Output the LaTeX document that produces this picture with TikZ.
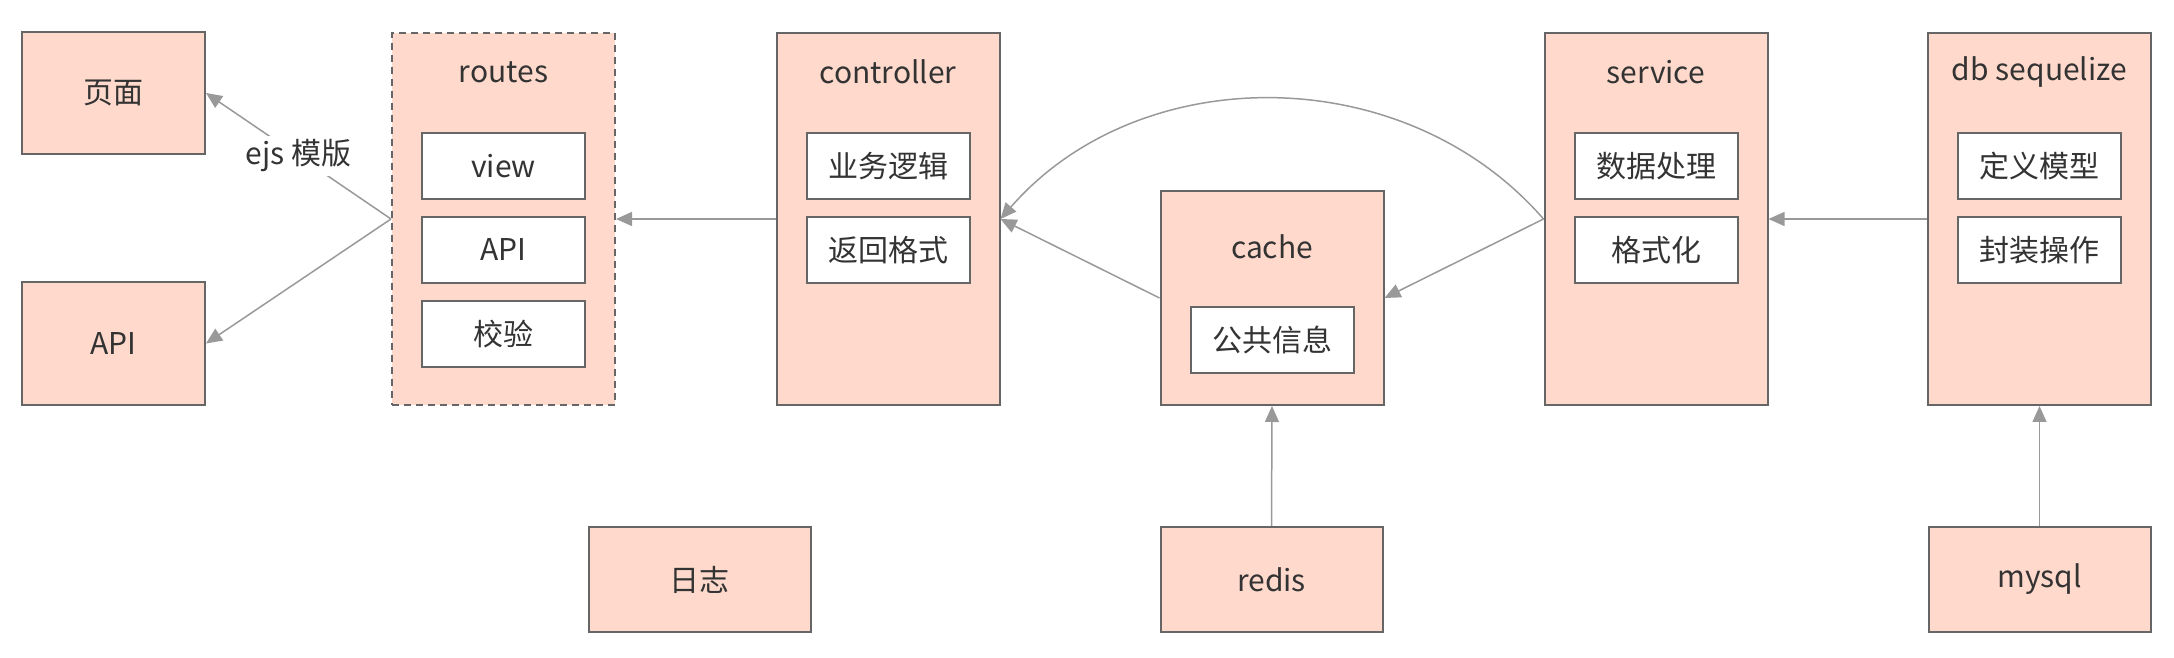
\documentclass[tikz,border=0pt]{standalone}
\usepackage{fontspec}
\setmainfont{Noto Sans CJK SC}
\usetikzlibrary{arrows.meta}
\definecolor{boxfill}{HTML}{FFDACC}
\definecolor{boxline}{HTML}{666666}
\definecolor{arrowgray}{HTML}{999999}
\definecolor{textgray}{HTML}{333333}
\begin{document}
\begin{tikzpicture}[x=0.5pt, y=0.5pt,
        every node/.style={text=textgray, font=\fontsize{15}{18}\selectfont},
        tier/.style={draw=boxline, fill=boxfill, line width=1pt, inner sep=0pt,
            minimum width=111.5pt, minimum height=186pt},
        item/.style={draw=boxline, fill=white, line width=1pt, inner sep=0pt,
            minimum width=81.5pt, minimum height=33pt},
        leaf/.style={draw=boxline, fill=boxfill, line width=1pt, inner sep=0pt,
            minimum width=111pt, minimum height=52.5pt},
        flow/.style={draw=arrowgray, line width=0.75pt, -{Triangle[length=8pt, width=7pt]}}]
        \useasboundingbox (0, 0) rectangle (2174, 658);

        % outputs
        \node[leaf, minimum width=91.5pt, minimum height=61pt] (page) at (113.5, 565) {页面};
        \node[leaf, minimum width=91.5pt, minimum height=61.5pt] (apiout) at (113.5, 314.5) {API};

        % layers
        \node[tier, dashed, dash pattern=on 3.5pt off 2.5pt] (routes) at (503.5, 439) {};
        \node[tier] (controller) at (888, 439) {};
        \node[tier, minimum height=107pt] (cache) at (1272, 360) {};
        \node[tier] (service) at (1656, 439) {};
        \node[tier] (db) at (2039.5, 439) {};

        \node (routestitle) at (503.5, 586) {routes};
        \node (controllertitle) at (888, 586) {controller};
        \node (cachetitle) at (1272, 411) {cache};
        \node (servicetitle) at (1656, 586) {service};
        \node (dbtitle) at (2039.5, 586) {db sequelize};

        \foreach \txt [count=\i] in {view, API, 校验} {
            \node[item] (r\i) at (503.5, 576 - 84*\i) {\txt};
        }
        \foreach \txt [count=\i] in {业务逻辑, 返回格式} {
            \node[item] (c\i) at (888, 576 - 84*\i) {\txt};
        }
        \node[item] (k1) at (1272, 318) {公共信息};
        \foreach \txt [count=\i] in {数据处理, 格式化} {
            \node[item] (s\i) at (1656, 576 - 84*\i) {\txt};
        }
        \foreach \txt [count=\i] in {定义模型, 封装操作} {
            \node[item] (d\i) at (2039.5, 576 - 84*\i) {\txt};
        }

        % sources
        \node[leaf] (log) at (699.5, 78.5) {日志};
        \node[leaf] (redis) at (1271.5, 78.5) {redis};
        \node[leaf] (mysql) at (2039.5, 78.5) {mysql};

        % connectors
        \draw[flow] (routes.west) -- node[fill=white, inner sep=2pt] (ejs) {ejs 模版} (page.east);
        \draw[flow] (routes.west) -- (apiout.east);
        \draw[flow] (controller.west) -- (routes.east);
        \draw[flow] (service.west) to[out=131, in=49] (controller.east);
        \draw[flow] (cache.west) -- (controller.east);
        \draw[flow] (service.west) -- (cache.east);
        \draw[flow] (db.west) -- (service.east);
        \draw[flow] (redis.north) -- (cache.south);
        \draw[flow] (mysql.north) -- (db.south);
    \end{tikzpicture}
\end{document}
